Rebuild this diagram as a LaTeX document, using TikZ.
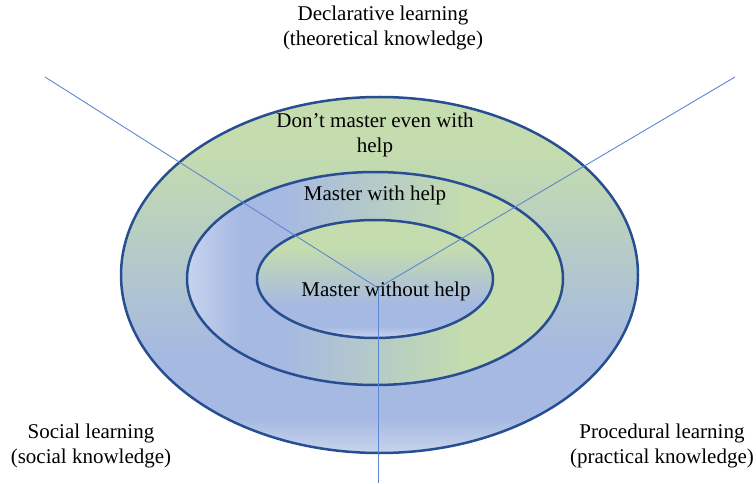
\documentclass[tikz,border=0pt]{standalone}
\usepackage{fontspec}
\setmainfont{Liberation Serif}
\usepackage{tikz}
\usetikzlibrary{shapes.geometric, positioning}
\definecolor{ringgreen}{RGB}{196,220,174}
\definecolor{ringblue}{RGB}{166,185,226}
\definecolor{ringpale}{RGB}{200,212,238}
\definecolor{ringedge}{RGB}{40,78,146}
\definecolor{spokeblue}{RGB}{92,134,212}
% colour runs for the three rings (bottom->top, left->right)
\pgfdeclareverticalshading{outershade}{100bp}{color(0bp)=(ringpale); color(25bp)=(ringpale); color(30bp)=(ringblue); color(39bp)=(ringblue); color(67bp)=(ringgreen); color(100bp)=(ringgreen)}
\pgfdeclarehorizontalshading{middleshade}{100bp}{color(0bp)=(ringpale); color(25bp)=(ringpale); color(32bp)=(ringblue); color(38bp)=(ringblue); color(62bp)=(ringgreen); color(100bp)=(ringgreen)}
\pgfdeclareverticalshading{innershade}{100bp}{color(0bp)=(ringpale); color(25bp)=(ringpale); color(30bp)=(ringblue); color(39bp)=(ringblue); color(63bp)=(ringgreen); color(100bp)=(ringgreen)}
\tikzset{
  ringnode/.style={ellipse,draw=ringedge,line width=2.5pt,inner sep=0pt},
  spoke/.style={draw=spokeblue,line width=0.9pt},
  lbl/.style={align=center,inner sep=0pt,font=\fontsize{21}{25}\selectfont}
}
\begin{document}
\begin{tikzpicture}[x=1pt,y=-1pt]
  \useasboundingbox (0,0) rectangle (756,484);
  \node[ringnode,shading=outershade,minimum width=517pt,minimum height=356pt] (outer) at (379.5,275) {};
  \node[ringnode,shading=middleshade,minimum width=376pt,minimum height=213pt] (middle) at (375,278.5) {};
  \node[ringnode,shading=innershade,minimum width=236pt,minimum height=118pt] (inner) at (375,279) {};
  % spokes meeting under the inner label
  \coordinate (hub) at (378,288);
  \coordinate (declend) at (45,77);
  \coordinate (procend) at (735,77);
  \coordinate (socend) at (378,483);
  \draw[spoke] (declend) -- (hub);
  \draw[spoke] (procend) -- (hub);
  \draw[spoke] (hub) -- (socend);
  \node[lbl] (decl) at (383,28) {Declarative learning\\(theoretical knowledge)};
  \node[lbl] (soc) at (91,446) {Social learning\\(social knowledge)};
  \node[lbl] (proc) at (662,446) {Procedural learning\\(practical knowledge)};
  \node[lbl] (nohelp) at (375,135) {Don't master even with\\help};
  \node[lbl] (withhelp) at (375,195) {Master with help};
  \node[lbl] (nohelpneeded) at (386,291) {Master without help};
\end{tikzpicture}
\end{document}
